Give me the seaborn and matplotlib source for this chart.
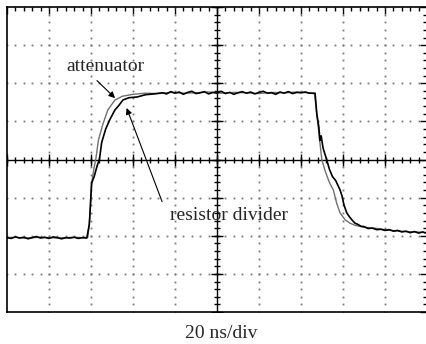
import numpy as np
import pandas as pd
import seaborn as sns
from matplotlib import pyplot as plt

sns.set_style('white')
plt.rcParams['font.family'] = ['Liberation Serif', 'DejaVu Serif']

# time in ns (20 ns/div), amplitude in screen divisions
att_t = [0, 4, 8, 12, 16, 20, 24, 28, 32, 36,
         38.5, 39.5, 40.3, 41.5, 42.4, 43.5, 45.5, 48, 51.4, 55,
         60, 66, 72, 78, 84, 90, 96, 102, 108, 114,
         120, 126, 132, 138, 144, 146.5, 147.5, 148.5, 149.9, 151.5,
         153.5, 155.4, 157, 158.6, 161, 163.3, 166, 170, 175, 180,
         185, 190, 195, 200]
att_v = [1.95, 1.96, 1.94, 1.95, 1.96, 1.95, 1.94, 1.95, 1.96, 1.95,
         1.96, 2.5, 3.38, 3.8, 4.05, 4.5, 4.9, 5.3, 5.56, 5.66,
         5.71, 5.74, 5.73, 5.76, 5.74, 5.75, 5.77, 5.74, 5.76, 5.75,
         5.73, 5.76, 5.75, 5.77, 5.75, 5.72, 5.2, 4.7, 4.0, 3.7,
         3.4, 3.2, 2.85, 2.6, 2.42, 2.33, 2.27, 2.22, 2.2, 2.16,
         2.13, 2.11, 2.1, 2.08]

div_t = [0, 2, 4, 6, 8, 10, 12, 14, 16, 18,
         20, 22, 24, 26, 28, 30, 32, 34, 36, 38,
         39.2, 40.3, 41.5, 43, 44, 45.1, 47, 49, 51.4, 53,
         55.2, 58, 62, 66, 70,
         74, 76, 78, 80, 82, 84, 86, 88, 90, 92,
         94, 96, 98, 100, 102, 104, 106, 108, 110, 112,
         114, 116, 118, 120, 122, 124, 126, 128, 130, 132,
         134, 136, 138, 140, 142, 144,
         146.7, 147.5, 148.5, 149, 149.6, 150.5, 152.2, 153.5, 155, 156.5,
         158.6, 159.5, 160.5, 161.8, 163, 164.2, 165.7, 167, 168.5, 170,
         172, 174, 176, 178, 180, 182, 184, 186, 188, 190,
         192, 194, 196, 198, 200]
div_v = [1.95, 1.93, 1.97, 1.94, 1.96, 1.92, 1.95, 1.98, 1.94, 1.96,
         1.93, 1.97, 1.95, 1.92, 1.95, 1.94, 1.96, 1.93, 1.95, 1.94,
         2.3, 3.38, 3.55, 3.85, 4.0, 4.45, 4.8, 5.05, 5.3, 5.4,
         5.56, 5.62, 5.64, 5.7, 5.72,
         5.75, 5.72, 5.78, 5.74, 5.77, 5.71, 5.76, 5.79, 5.73, 5.75,
         5.78, 5.72, 5.76, 5.74, 5.79, 5.73, 5.76, 5.71, 5.75, 5.78,
         5.74, 5.77, 5.72, 5.76, 5.79, 5.74, 5.75, 5.71, 5.77, 5.74,
         5.78, 5.73, 5.76, 5.75, 5.77, 5.74,
         5.74, 5.21, 4.85, 4.5, 4.62, 4.3, 4.0, 3.75, 3.55, 3.45,
         3.2, 3.05, 2.8, 2.6, 2.5, 2.42, 2.33, 2.3, 2.25, 2.24,
         2.19, 2.2, 2.16, 2.17, 2.14, 2.16, 2.12, 2.14, 2.1, 2.12,
         2.08, 2.11, 2.07, 2.1, 2.06]

att = pd.DataFrame({'t': att_t, 'v': att_v})
div = pd.DataFrame({'t': div_t, 'v': div_v})

fig = plt.figure(figsize=(4.26, 3.44), dpi=100)
ax = fig.add_axes([7/426, 32/344, 420/426, 305/344])
ax.set_xlim(0, 200)
ax.set_ylim(0, 8)

# graticule: dotted major lines, solid centre cross
xmaj = np.arange(0, 201, 20)
ymaj = np.arange(0, 9, 1)
xmin = np.arange(0, 201, 4)
ymin = np.arange(0, 8.01, 0.2)
for x in xmaj[1:-1]:
    if x != 100:
        ax.plot([x] * len(ymin), ymin, ls='none', marker='s', ms=1.3, mew=0, color='#777777')
for y in ymaj[1:-1]:
    if y != 4:
        ax.plot(xmin, [y] * len(xmin), ls='none', marker='s', ms=1.3, mew=0, color='#777777')
ax.axvline(100, color='black', lw=1)
ax.axhline(4, color='black', lw=1)
ax.plot(xmin, [4] * len(xmin), ls='none', marker='|', ms=5, mew=1, color='black')
ax.plot(xmaj, [4] * len(xmaj), ls='none', marker='|', ms=8, mew=1, color='black')
ax.plot([100] * len(ymin), ymin, ls='none', marker='_', ms=5, mew=1, color='black')
ax.plot([100] * len(ymaj), ymaj, ls='none', marker='_', ms=8, mew=1, color='black')

sns.lineplot(data=att, x='t', y='v', sort=False, estimator=None, color='#707070', lw=1.0, ax=ax)
sns.lineplot(data=div, x='t', y='v', sort=False, estimator=None, color='black', lw=1.2, ax=ax)

ax.set_xticks(xmaj)
ax.set_xticks(xmin, minor=True)
ax.set_yticks(ymaj)
ax.set_yticks(ymin, minor=True)
ax.tick_params(which='both', direction='in', top=True, right=True,
               labelbottom=False, labelleft=False, color='black', width=1)
ax.tick_params(which='major', length=5)
ax.tick_params(which='minor', length=3)
ax.set_xlabel('')
ax.set_ylabel('')
for s in ax.spines.values():
    s.set_color('black')
    s.set_linewidth(1.2)

ax.annotate('', xy=(52.4, 5.56), xytext=(41.9, 6.12),
            arrowprops=dict(arrowstyle='-|>', lw=0.8, color='black', mutation_scale=9))
ax.text(47.1, 6.43, 'attenuator', fontsize=14, ha='center', va='center')
ax.annotate('', xy=(56.5, 5.42), xytext=(74.3, 2.83),
            arrowprops=dict(arrowstyle='-|>', lw=0.8, color='black', mutation_scale=9))
ax.text(105.7, 2.52, 'resistor divider', fontsize=14, ha='center', va='center')

fig.text(221/426, 1 - 333/344, '20 ns/div', fontsize=14, ha='center', va='center')

fig.savefig('out.png', dpi=100)
